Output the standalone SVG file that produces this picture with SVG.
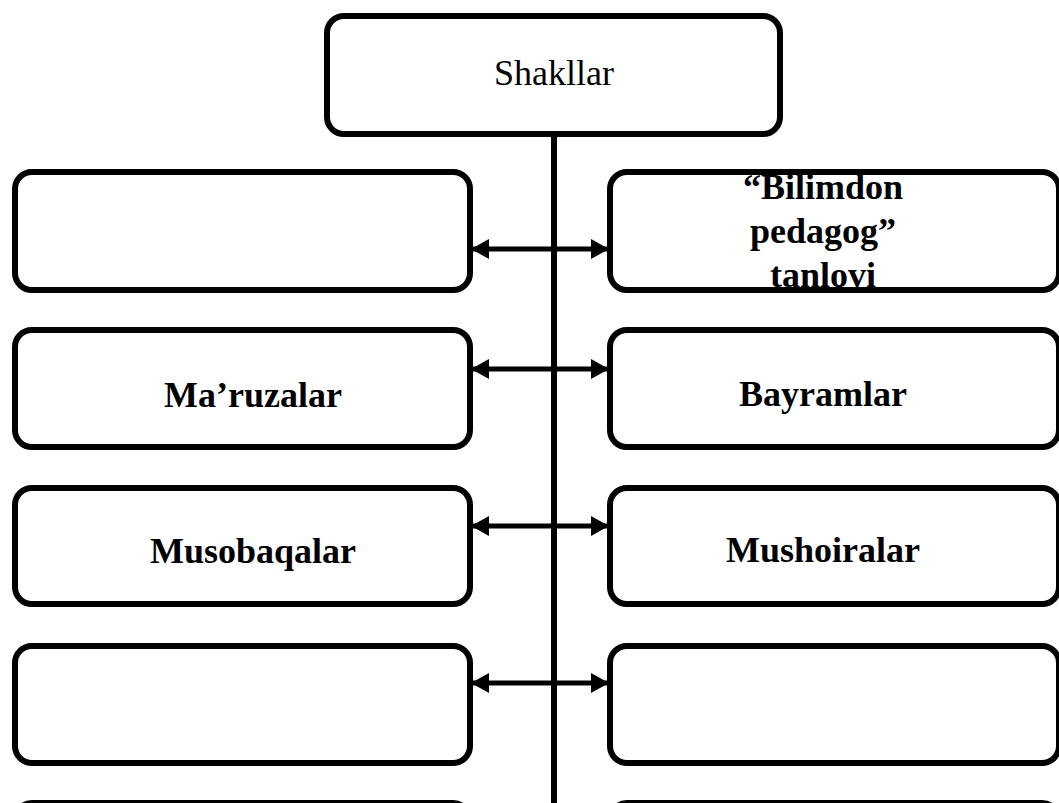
<svg xmlns="http://www.w3.org/2000/svg" width="1059" height="803" viewBox="0 0 1059 803">
<defs>
<style>
.box{fill:#fff;stroke:#000;stroke-width:6}
.conn{stroke:#000;fill:none}
.lbl{font-family:"Liberation Serif","Times New Roman",serif;font-size:36px;font-weight:bold;fill:#000;text-anchor:middle}
.title{font-family:"Liberation Serif","Times New Roman",serif;font-size:36px;fill:#000;text-anchor:middle}
</style>
<marker id="ah" markerUnits="userSpaceOnUse" markerWidth="18" markerHeight="20" refX="18" refY="10" orient="auto-start-reverse" viewBox="0 0 18 20">
<path d="M0,0 L18,10 L0,20 z" fill="#000"/>
</marker>
</defs>
<rect width="1059" height="803" fill="#fff"/>
<g id="connectors">
<line class="conn" x1="554" y1="134" x2="554" y2="803" stroke-width="6"/>
<line class="conn" x1="471" y1="249" x2="609" y2="249" stroke-width="5" marker-start="url(#ah)" marker-end="url(#ah)"/>
<line class="conn" x1="471" y1="369" x2="609" y2="369" stroke-width="5" marker-start="url(#ah)" marker-end="url(#ah)"/>
<line class="conn" x1="471" y1="526" x2="609" y2="526" stroke-width="5" marker-start="url(#ah)" marker-end="url(#ah)"/>
<line class="conn" x1="471" y1="683" x2="609" y2="683" stroke-width="5" marker-start="url(#ah)" marker-end="url(#ah)"/>
</g>
<g id="node-shakllar">
<rect class="box" x="327" y="16" width="453" height="118" rx="17"/>
<text class="title" x="554" y="85">Shakllar</text>
</g>
<g id="node-left-1">
<rect class="box" x="15" y="172" width="455" height="118" rx="17"/>
</g>
<g id="node-bilimdon">
<rect class="box" x="610" y="172" width="449" height="118" rx="17"/>
<text class="lbl" x="823" y="199">“Bilimdon</text>
<text class="lbl" x="823" y="243">pedagog”</text>
<text class="lbl" x="823" y="287">tanlovi</text>
</g>
<g id="node-maruzalar">
<rect class="box" x="15" y="330" width="455" height="117" rx="17"/>
<text class="lbl" x="253" y="407">Ma’ruzalar</text>
</g>
<g id="node-bayramlar">
<rect class="box" x="610" y="330" width="449" height="117" rx="17"/>
<text class="lbl" x="823" y="406">Bayramlar</text>
</g>
<g id="node-musobaqalar">
<rect class="box" x="15" y="488" width="455" height="116" rx="17"/>
<text class="lbl" x="253" y="563">Musobaqalar</text>
</g>
<g id="node-mushoiralar">
<rect class="box" x="610" y="488" width="449" height="116" rx="17"/>
<text class="lbl" x="823" y="562">Mushoiralar</text>
</g>
<g id="node-left-4">
<rect class="box" x="15" y="646" width="455" height="117" rx="17"/>
</g>
<g id="node-right-4">
<rect class="box" x="610" y="646" width="449" height="117" rx="17"/>
</g>
<g id="node-left-5">
<rect class="box" x="15" y="803" width="455" height="117" rx="17"/>
</g>
<g id="node-right-5">
<rect class="box" x="610" y="803" width="449" height="117" rx="17"/>
</g>
</svg>
